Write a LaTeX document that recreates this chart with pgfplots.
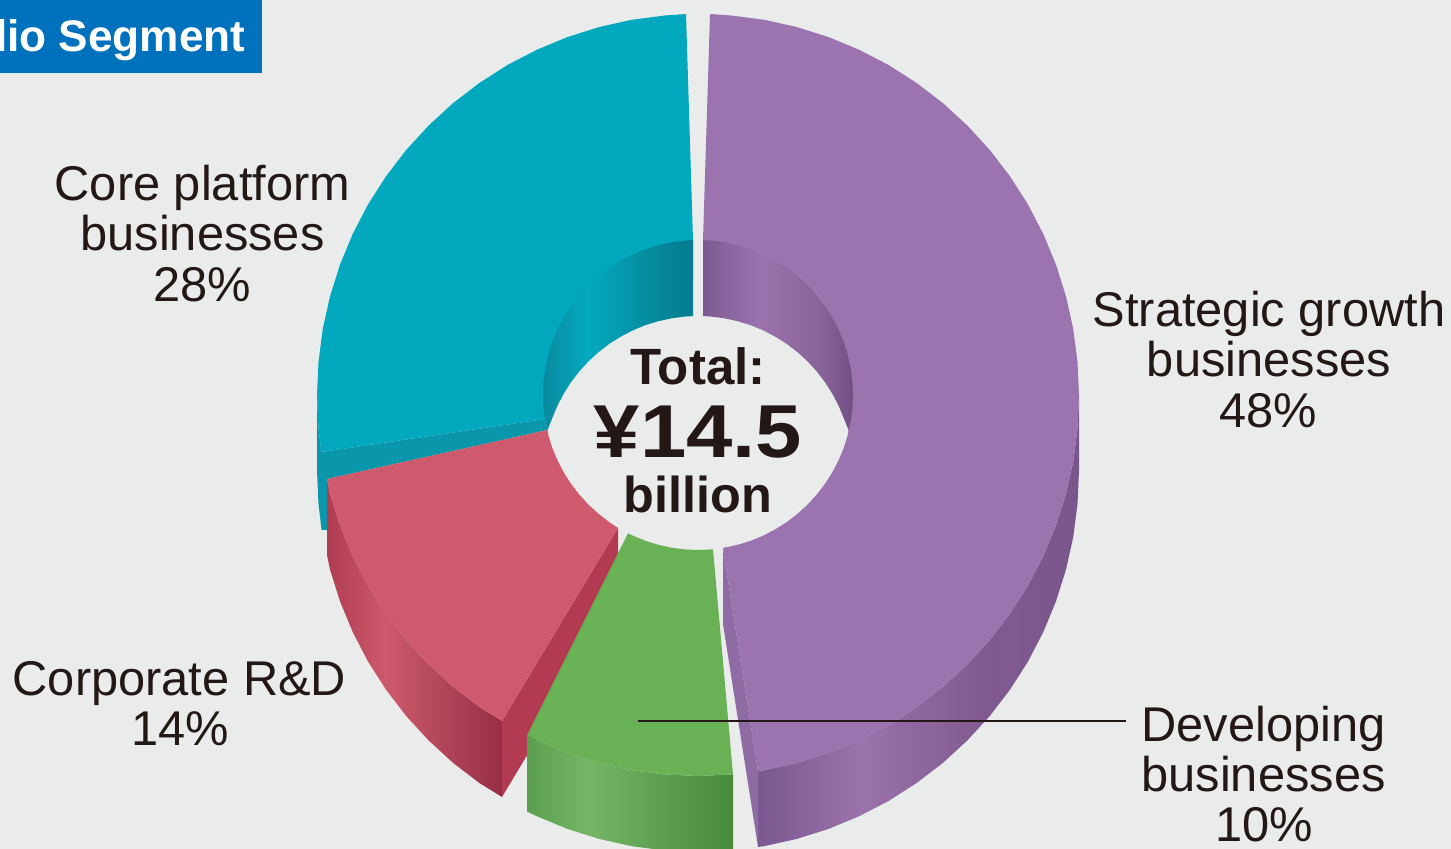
\documentclass[border=0pt]{standalone}
\usepackage{fontspec}
\setmainfont{Liberation Sans}
\usepackage{graphicx}
\usepackage{pgfplots}
\pgfplotsset{compat=1.18}

\definecolor{page}{HTML}{EAECEC}
\definecolor{ink}{HTML}{231815}
\definecolor{tagblue}{HTML}{0071BC}
\definecolor{cyanface}{HTML}{02A8BE}
\definecolor{cyanedge}{HTML}{0A96AB}
\definecolor{purpleface}{HTML}{9B73AF}
\definecolor{purpleedge}{HTML}{8E6BA3}
\definecolor{redface}{HTML}{CF5A6D}
\definecolor{rededge}{HTML}{B23B52}
\definecolor{greenface}{HTML}{68B155}

% Horizontal shadings for the curved walls; a filled path spans 25bp to 75bp.
\definecolor{cw1}{HTML}{0B8A9F}\definecolor{cw2}{HTML}{03A9BF}\definecolor{cw3}{HTML}{068A9C}\definecolor{cw4}{HTML}{047C8E}
\pgfdeclarehorizontalshading{cyanwall}{100bp}{color(0bp)=(cw1); color(25bp)=(cw1); color(40bp)=(cw2); color(62bp)=(cw3); color(75bp)=(cw4); color(100bp)=(cw4)}
\definecolor{pw1}{HTML}{7E5A92}\definecolor{pw2}{HTML}{9A72AD}\definecolor{pw3}{HTML}{8A6399}\definecolor{pw4}{HTML}{714F85}
\pgfdeclarehorizontalshading{purplewall}{100bp}{color(0bp)=(pw1); color(25bp)=(pw1); color(44bp)=(pw2); color(64bp)=(pw3); color(75bp)=(pw4); color(100bp)=(pw4)}
\definecolor{ps1}{HTML}{7C5890}\definecolor{ps2}{HTML}{9A72AC}\definecolor{ps3}{HTML}{815A91}\definecolor{ps4}{HTML}{7A568C}
\pgfdeclarehorizontalshading{purpleside}{100bp}{color(0bp)=(ps1); color(25bp)=(ps1); color(41bp)=(ps2); color(60bp)=(ps3); color(75bp)=(ps4); color(100bp)=(ps4)}
\definecolor{rs1}{HTML}{B03C52}\definecolor{rs2}{HTML}{CD5A6C}\definecolor{rs3}{HTML}{962F45}
\pgfdeclarehorizontalshading{redside}{100bp}{color(0bp)=(rs1); color(25bp)=(rs1); color(42bp)=(rs2); color(75bp)=(rs3); color(100bp)=(rs3)}
\definecolor{gs1}{HTML}{5B9F4E}\definecolor{gs2}{HTML}{74B565}\definecolor{gs3}{HTML}{478A3C}
\pgfdeclarehorizontalshading{greenside}{100bp}{color(0bp)=(gs1); color(25bp)=(gs1); color(40bp)=(gs2); color(75bp)=(gs3); color(100bp)=(gs3)}

\tikzset{
  seg/.style={draw=none, no markers},
  lab/.style={anchor=base, inner sep=0pt, text=ink, font=\fontsize{24.4}{24.4}\selectfont},
  big/.style={anchor=base, inner sep=0pt, text=ink, font=\bfseries\fontsize{#1}{#1}\selectfont},
}

\begin{document}
\begin{tikzpicture}
\begin{axis}[
  scale only axis, width=725.5pt, height=424.5pt,
  xmin=0, xmax=1451, ymin=0, ymax=849, y dir=reverse,
  hide axis, clip=true,
]
% page and heading tag
\addplot[draw=none, fill=page] coordinates {(0,0) (1451,0) (1451,849) (0,849)};
\addplot[draw=none, fill=tagblue] coordinates {(0,0) (262,0) (262,73) (0,73)};

% core platform businesses: 28%
\addplot[seg, fill=cyanedge] coordinates {
  (317,395) (317,471) (318.5,504.2) (321.6,530) (327,530) (327,479) (547.5,430) (545,419) (321.3,452) (318.5,428.2)};
\addplot[seg, fill=cyanface] coordinates {
  (686,14) (664.8,15.5) (631.8,19.8) (599.4,27) (567.7,37) (537,49.7) (507.5,65) (479.5,82.9) (453.1,103.1)
  (428.6,125.6) (406.1,150.1) (385.9,176.5) (368,204.5) (352.7,234) (340,264.7) (330,296.4) (322.8,328.8)
  (318.5,361.8) (317,395) (318.5,428.2) (321.3,452)
  (545,419) (565,345) (620,300) (693,280) (693,240)};
\addplot[seg, shading=cyanwall] coordinates {
  (693,240.1) (684.5,240.6) (671.1,242.4) (657.9,245.3) (645,249.3) (632.5,254.5) (620.5,260.8) (609.1,268)
  (598.4,276.3) (588.4,285.4) (579.3,295.4) (571,306.2) (563.8,317.5) (557.5,329.5) (552.3,342) (548.3,354.9)
  (545.4,368.1) (543.6,381.5) (543,395) (543.6,408.5) (545,419) (547.5,430)
  (552.3,418) (557.5,405.5) (563.8,393.5) (571,382.2) (579.3,371.4) (588.4,361.4) (598.4,352.3) (609.1,344)
  (620.5,336.8) (632.5,330.5) (645,325.3) (657.9,321.3) (671.1,318.4) (684.5,316.6) (693,316.1)};

% strategic growth businesses: 48%
\addplot[seg, shading=purpleside] coordinates {
  (1079,395) (1077.5,428.2) (1073.2,461.2) (1066,493.6) (1056,525.3) (1043.3,556) (1028,585.5) (1010.1,613.5)
  (989.9,639.9) (967.4,664.4) (942.9,686.9) (916.5,707.1) (888.5,725) (859,740.3) (828.3,753) (796.6,763)
  (764.2,770.2) (758,771) (758,847) (764.2,846.2) (796.6,839) (828.3,829) (859,816.3) (888.5,801) (916.5,783.1)
  (942.9,762.9) (967.4,740.4) (989.9,715.9) (1010.1,689.5) (1028,661.5) (1043.3,632) (1056,601.3) (1066,569.6)
  (1073.2,537.2) (1077.5,504.2) (1079,471)};
\addplot[draw=none, fill=purpleedge] coordinates {(723,548) (723,624) (758,847) (758,771)};
\addplot[seg, fill=purpleface] coordinates {
  (710,14) (731.2,15.5) (764.2,19.8) (796.6,27) (828.3,37) (859,49.7) (888.5,65) (916.5,82.9) (942.9,103.1)
  (967.4,125.6) (989.9,150.1) (1010.1,176.5) (1028,204.5) (1043.3,234) (1056,264.7) (1066,296.4) (1073.2,328.8)
  (1077.5,361.8) (1079,395) (1077.5,428.2) (1073.2,461.2) (1066,493.6) (1056,525.3) (1043.3,556) (1028,585.5)
  (1010.1,613.5) (989.9,639.9) (967.4,664.4) (942.9,686.9) (916.5,707.1) (888.5,725) (859,740.3) (828.3,753)
  (796.6,763) (764.2,770.2) (758,771)
  (723,548) (724.9,547.6) (738.1,544.7) (751,540.7) (763.5,535.5) (775.5,529.2) (786.9,522) (797.6,513.7)
  (807.6,504.6) (816.7,494.6) (825,483.8) (832.2,472.5) (838.5,460.5) (843.7,448) (847.7,435.1) (848.5,430)
  (835,360) (775,300) (703,280) (703,240)};
\addplot[seg, shading=purplewall] coordinates {
  (703,240.1) (711.5,240.6) (724.9,242.4) (738.1,245.3) (751,249.3) (763.5,254.5) (775.5,260.8) (786.9,268)
  (797.6,276.3) (807.6,285.4) (816.7,295.4) (825,306.2) (832.2,317.5) (838.5,329.5) (843.7,342) (847.7,354.9)
  (850.6,368.1) (852.4,381.5) (853,395) (852.4,408.5) (850.6,421.9) (848.5,430)
  (843.7,418) (838.5,405.5) (832.2,393.5) (825,382.2) (816.7,371.4) (807.6,361.4) (797.6,352.3) (786.9,344)
  (775.5,336.8) (763.5,330.5) (751,325.3) (738.1,321.3) (724.9,318.4) (711.5,316.6) (703,316.1)};

% corporate R&D: 14%
\addplot[seg, shading=redside] coordinates {
  (327,479) (330,493.6) (340,525.3) (352.7,556) (368,585.5) (385.9,613.5) (406.1,639.9) (428.6,664.4) (453.1,686.9)
  (479.5,707.1) (502,721) (502,797) (479.5,783.1) (453.1,762.9) (428.6,740.4) (406.1,715.9) (385.9,689.5)
  (368,661.5) (352.7,632) (340,601.3) (330,569.6) (327,555)};
\addplot[draw=none, fill=rededge] coordinates {(618,528) (618,604) (502,797) (502,721)};
\addplot[seg, fill=redface] coordinates {
  (327,479) (330,493.6) (340,525.3) (352.7,556) (368,585.5) (385.9,613.5) (406.1,639.9) (428.6,664.4) (453.1,686.9)
  (479.5,707.1) (502,721) (618,528) (609.1,522) (598.4,513.7) (588.4,504.6) (579.3,494.6) (571,483.8) (563.8,472.5)
  (557.5,460.5) (552.3,448) (548.3,435.1) (547.5,430)};

% developing businesses: 10%
\addplot[seg, shading=greenside] coordinates {
  (527,735.5) (537,740.3) (567.7,753) (599.4,763) (631.8,770.2) (664.8,774.5) (698,776) (733,774.4)
  (733,850.4) (698,852) (664.8,850.5) (631.8,846.2) (599.4,839) (567.7,829) (537,816.3) (527,811.5)};
\addplot[seg, fill=greenface] coordinates {
  (628,533.3) (632.5,535.5) (645,540.7) (657.9,544.7) (671.1,547.6) (684.5,549.4) (698,550) (711.5,549.4) (713,549.3)
  (733,774.4) (698,776) (664.8,774.5) (631.8,770.2) (599.4,763) (567.7,753) (537,740.3) (527,735.5)};

% leader to the developing businesses label
\addplot[color=ink, line width=1pt, no markers] coordinates {(638,720.5) (1126,720.5)};

\node[big=22.1, overlay, anchor=base east, text=white] at (axis cs:246,52) {Portfolio Segment};

\node[big=25.5] at (axis cs:698,385) {Total:};
\node[big=37.5] at (axis cs:698,458) {\scalebox{1.11}[1]{¥14.5}};
\node[big=25.2] at (axis cs:698,512.5) {billion};

\node[lab] at (axis cs:202.5,201) {Core platform};
\node[lab] at (axis cs:202.5,251) {businesses};
\node[lab] at (axis cs:202.5,302) {28\%};

\node[lab] at (axis cs:1269,327) {Strategic growth};
\node[lab] at (axis cs:1269,377) {businesses};
\node[lab] at (axis cs:1268.5,428) {48\%};

\node[lab] at (axis cs:179.5,695) {Corporate R\&D};
\node[lab] at (axis cs:180,745) {14\%};

\node[lab] at (axis cs:1263.5,741) {Developing};
\node[lab] at (axis cs:1263.5,791) {businesses};
\node[lab] at (axis cs:1264,841) {10\%};
\end{axis}
\end{tikzpicture}
\end{document}
